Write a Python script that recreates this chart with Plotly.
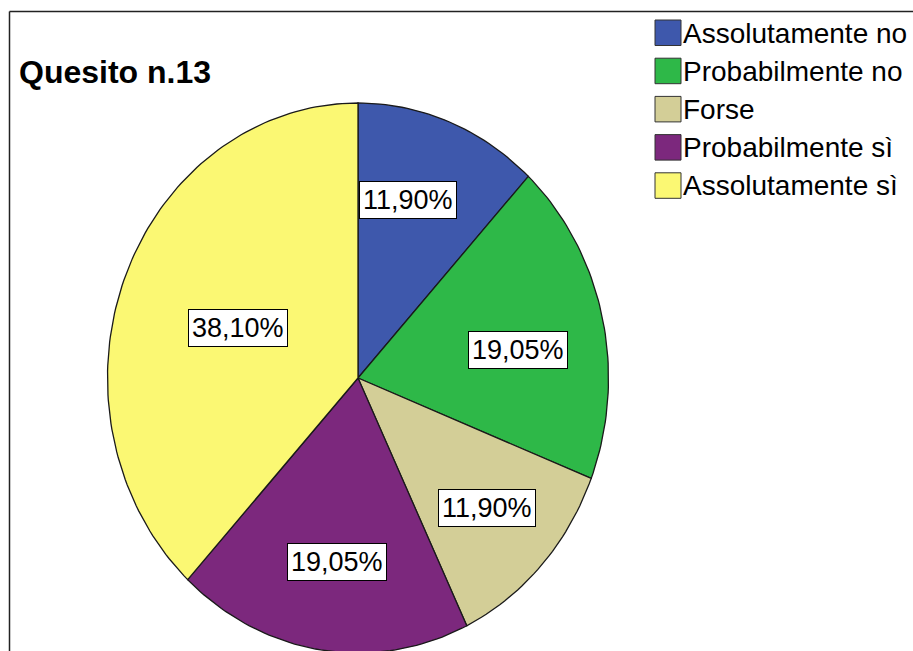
import numpy as np
import plotly.graph_objects as go

# data
categories = ["Assolutamente no", "Probabilmente no", "Forse", "Probabilmente sì", "Assolutamente sì"]
percentages = [11.90, 19.05, 11.90, 19.05, 38.10]
colors = ["#3E58AC", "#2EB848", "#D3CE97", "#7C287D", "#FBF873"]
title_text = "Quesito n.13"

W, H = 913, 651
CX, CY = 358, 378          # pie centre in pixels
RX, RY = 250.5, 275        # the SPSS pie is a bit taller than wide

# label box centres in unit-pie coordinates (SPSS places them by hand)
label_pos = [(0.20, 0.647), (0.639, 0.102), (0.515, -0.473), (-0.084, -0.67), (-0.481, 0.182)]


def px(x):
    return x / W


def py(y):
    return 1 - y / H


fig = go.Figure()

# wedges, clockwise from 12 o'clock
start = 0.0
for name, pct, col in zip(categories, percentages, colors):
    end = start + pct / 100 * 2 * np.pi
    t = np.linspace(start, end, max(int(pct * 3), 8))
    xs = np.concatenate([[0], np.sin(t), [0]])
    ys = np.concatenate([[0], np.cos(t), [0]])
    fig.add_trace(go.Scatter(x=xs, y=ys, mode="lines", fill="toself", fillcolor=col,
                             line=dict(color="#1a1a1a", width=1.3), name=name,
                             hoverinfo="name", showlegend=False))
    start = end

# percentage labels
for pct, (lx, ly) in zip(percentages, label_pos):
    fig.add_annotation(x=lx, y=ly, xref="x", yref="y", showarrow=False,
                       text=f"{pct:.2f}%".replace(".", ","),
                       font=dict(family="Liberation Sans, Arial", size=27, color="black"),
                       bgcolor="white", bordercolor="black", borderwidth=1, borderpad=3)

# hand made legend (big swatches like SPSS)
shapes = []
for i, (name, col) in enumerate(zip(categories, colors)):
    top = 20 + i * 38.2
    shapes.append(dict(type="rect", xref="paper", yref="paper",
                       x0=px(655), x1=px(681), y0=py(top), y1=py(top + 25.5),
                       fillcolor=col, line=dict(color="#333333", width=1)))
    fig.add_annotation(x=px(681), y=py(top + 13), xref="paper", yref="paper",
                       xanchor="left", yanchor="middle", showarrow=False, text=name,
                       font=dict(family="Liberation Sans, Arial", size=28, color="black"))

# frame around the chart (runs off the right and bottom edge)
shapes.append(dict(type="line", xref="paper", yref="paper",
                   x0=px(9.5), x1=px(930), y0=py(11.5), y1=py(11.5),
                   line=dict(color="#222222", width=1.5)))
shapes.append(dict(type="line", xref="paper", yref="paper",
                   x0=px(9.5), x1=px(9.5), y0=py(11.5), y1=py(670),
                   line=dict(color="#222222", width=1.5)))

fig.add_annotation(x=px(17), y=py(72), xref="paper", yref="paper", xanchor="left",
                   yanchor="middle", showarrow=False, text=f"<b>{title_text}</b>",
                   font=dict(family="Liberation Sans, Arial", size=32, color="black"))

fig.update_layout(
    width=W, height=H,
    margin=dict(l=0, r=0, t=0, b=0),
    paper_bgcolor="white", plot_bgcolor="white",
    shapes=shapes,
    xaxis=dict(range=[-CX / RX, (W - CX) / RX], visible=False, domain=[0, 1]),
    yaxis=dict(range=[(CY - H) / RY, CY / RY], visible=False, domain=[0, 1]),
)

# drop the default 8px body margin so the figure sits at the window corner
fig.write_html("out.html", config={"displayModeBar": False},
               post_script="document.body.style.margin='0';")
